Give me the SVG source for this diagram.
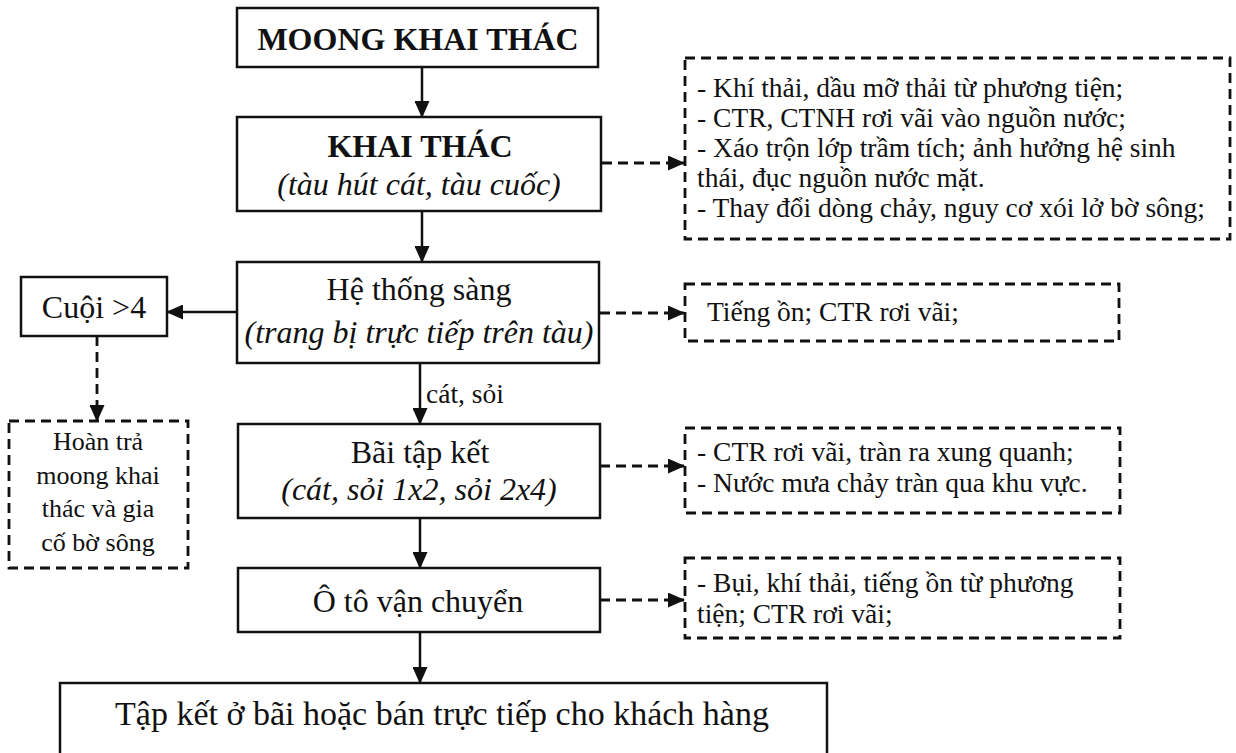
<svg xmlns="http://www.w3.org/2000/svg" width="1236" height="753" viewBox="0 0 1236 753">
<defs>
<style>
.box{fill:#fff;stroke:#111;stroke-width:2.5}
.dbox{fill:#fff;stroke:#111;stroke-width:2.8;stroke-dasharray:10 6}
.ln{fill:none;stroke:#111;stroke-width:2.5}
.dl{fill:none;stroke:#111;stroke-width:2.8;stroke-dasharray:10 6}
text{font-family:"Liberation Serif","Times New Roman",serif;fill:#111}
.t{font-size:32px;text-anchor:middle}
.b{font-weight:bold}
.i{font-style:italic}
.s{font-size:27.5px}
.h{font-size:26px;text-anchor:middle}
</style>
<marker id="ah" markerWidth="17" markerHeight="15" refX="16" refY="7.5" orient="auto" markerUnits="userSpaceOnUse">
<path d="M0,0 L17,7.5 L0,15 Z" fill="#111"/>
</marker>
</defs>
<rect width="1236" height="753" fill="#fff"/>

<g id="connectors">
<line class="ln" x1="422" y1="67" x2="422" y2="117" marker-end="url(#ah)"/>
<line class="ln" x1="422" y1="211" x2="422" y2="262" marker-end="url(#ah)"/>
<line class="ln" x1="237" y1="312" x2="167" y2="312" marker-end="url(#ah)"/>
<line class="dl" x1="97" y1="336" x2="97" y2="421" marker-end="url(#ah)"/>
<line class="ln" x1="420" y1="363" x2="420" y2="424" marker-end="url(#ah)"/>
<line class="ln" x1="420" y1="518" x2="420" y2="568" marker-end="url(#ah)"/>
<line class="ln" x1="420" y1="632" x2="420" y2="683" marker-end="url(#ah)"/>
<line class="dl" x1="602" y1="163" x2="684" y2="163" marker-end="url(#ah)"/>
<line class="dl" x1="600" y1="313" x2="684" y2="313" marker-end="url(#ah)"/>
<line class="dl" x1="600" y1="466" x2="684" y2="466" marker-end="url(#ah)"/>
<line class="dl" x1="600" y1="600" x2="684" y2="600" marker-end="url(#ah)"/>
<text x="426" y="403" style="font-size:27.5px">cát, sỏi</text>
</g>

<g id="moong">
<rect class="box" x="237" y="8" width="361" height="59"/>
<text class="t b" x="418" y="50">MOONG KHAI THÁC</text>
</g>

<g id="khaithac">
<rect class="box" x="237" y="117" width="364" height="94"/>
<text class="t b" x="420" y="157">KHAI THÁC</text>
<text class="t i" x="419" y="195">(tàu hút cát, tàu cuốc)</text>
</g>

<g id="sang">
<rect class="box" x="237" y="262" width="362" height="101"/>
<text class="t" x="419" y="300">Hệ thống sàng</text>
<text class="t i" x="419" y="343">(trang bị trực tiếp trên tàu)</text>
</g>

<g id="cuoi">
<rect class="box" x="21" y="277" width="146" height="59"/>
<text class="t" x="94" y="318">Cuội &gt;4</text>
</g>

<g id="hoantra">
<rect class="dbox" x="9" y="421" width="179" height="147"/>
<text class="h" x="98" y="450">Hoàn trả</text>
<text class="h" x="98" y="484">moong khai</text>
<text class="h" x="98" y="517">thác và gia</text>
<text class="h" x="98" y="551">cố bờ sông</text>
</g>

<g id="baitapket">
<rect class="box" x="238" y="424" width="362" height="94"/>
<text class="t" x="420" y="463">Bãi tập kết</text>
<text class="t i" x="419" y="500">(cát, sỏi 1x2, sỏi 2x4)</text>
</g>

<g id="oto">
<rect class="box" x="238" y="568" width="362" height="64"/>
<text class="t" x="418" y="612">Ô tô vận chuyển</text>
</g>

<g id="taplket">
<rect class="box" x="60" y="683" width="767" height="80"/>
<text x="442" y="725" style="font-size:34px;text-anchor:middle">Tập kết ở bãi hoặc bán trực tiếp cho khách hàng</text>
</g>

<g id="d1">
<rect class="dbox" x="685" y="58" width="545" height="181"/>
<text class="s" x="697" y="97">- Khí thải, dầu mỡ thải từ phương tiện;</text>
<text class="s" x="697" y="127">- CTR, CTNH rơi vãi vào nguồn nước;</text>
<text class="s" x="697" y="157">- Xáo trộn lớp trầm tích; ảnh hưởng hệ sinh</text>
<text class="s" x="697" y="187">thái, đục nguồn nước mặt.</text>
<text class="s" x="697" y="217">- Thay đổi dòng chảy, nguy cơ xói lở bờ sông;</text>
</g>

<g id="d2">
<rect class="dbox" x="685" y="284" width="434" height="57"/>
<text class="s" x="707" y="321">Tiếng ồn; CTR rơi vãi;</text>
</g>

<g id="d3">
<rect class="dbox" x="685" y="428" width="435" height="85"/>
<text class="s" x="697" y="461">- CTR rơi vãi, tràn ra xung quanh;</text>
<text class="s" x="697" y="492">- Nước mưa chảy tràn qua khu vực.</text>
</g>

<g id="d4">
<rect class="dbox" x="685" y="558" width="435" height="80"/>
<text class="s" x="697" y="592">- Bụi, khí thải, tiếng ồn từ phương</text>
<text class="s" x="697" y="623">tiện; CTR rơi vãi;</text>
</g>
</svg>
